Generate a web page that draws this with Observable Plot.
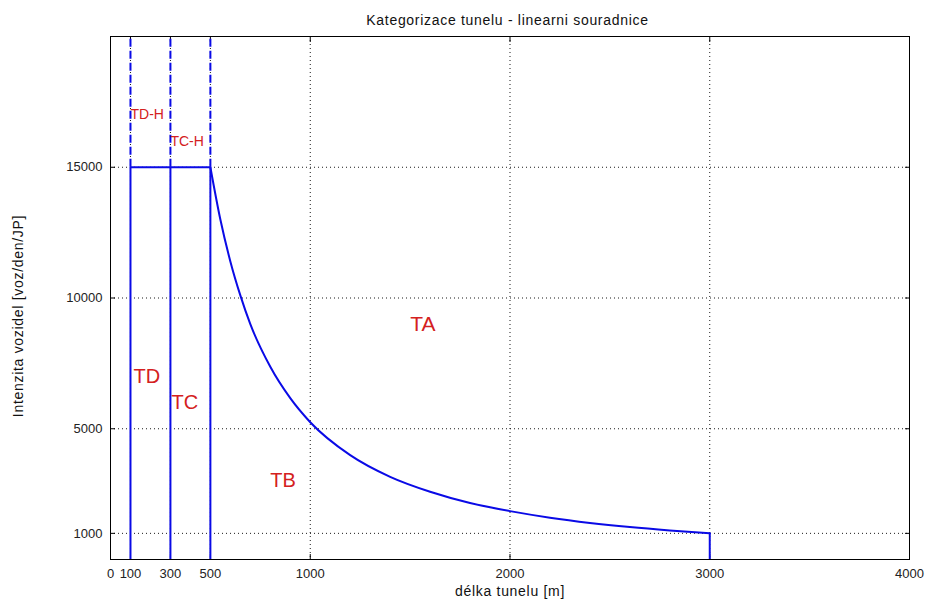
<!DOCTYPE html>
<html>
<head>
<meta charset="utf-8">
<script src="https://cdn.jsdelivr.net/npm/d3@7"></script>
<script src="https://cdn.jsdelivr.net/npm/@observablehq/plot@0.6"></script>
<style>
  html, body { margin: 0; padding: 0; background: #fff; }
  #title { width: 925px; height: 28px; font: 14px "Liberation Sans", Arial, sans-serif; color: #111; letter-spacing: 0.7px;
           box-sizing: border-box; padding-left: 106px; padding-right: 16px; text-align: center; line-height: 40px; overflow: visible; white-space: nowrap; }
  svg { display: block; }
</style>
</head>
<body>
<div id="title">Kategorizace tunelu - linearni souradnice</div>
<div id="chart"></div>
<script>
// Category boundaries (tunnel length, m)
const boundaryX = [100, 300, 500];
const boundaryTop = [15000];
const yMax = 20000;
const endX = [3000];
const endY = 1000;

// TA/TB boundary curve
const curveX = [500, 550, 600, 650, 700, 800, 900, 1000, 1200, 1400, 1600, 1800, 2000, 2200, 2400, 2600, 2800, 3000];
const curveY = [15000, 13000, 11400, 10100, 9000, 7370, 6170, 5250, 3990, 3160, 2590, 2160, 1850, 1600, 1400, 1240, 1110, 1000];

// Tick labels
const xTicks = [0, 100, 300, 500, 1000, 2000, 3000, 4000];
const yTicks = [1000, 5000, 10000, 15000];

// Region labels
const labelText = ["TD-H", "TC-H", "TD", "TC", "TB", "TA"];
const labelX    = [100, 300, 115, 305, 800, 1500];
const labelY    = [17000, 16000, 7000, 6000, 3000, 9000];
const labelSize = [14, 14, 20, 20, 20, 21];

const curve = curveX.map((x, i) => ({x, y: curveY[i]}));
const labels = labelText.map((t, i) => ({t, x: labelX[i], y: labelY[i], s: labelSize[i]}));

const blue = "#0a0ae6";
const red = "#d42020";
const font = '"Liberation Sans", Arial, sans-serif';
const fmt = d3.format("d");
const xTitle = "délka tunelu [m]";
const yTitle = "Intenzita vozidel [voz/den/JP]";

const chart = Plot.plot({
  width: 925,
  height: 571,
  marginLeft: 110,
  marginRight: 16,
  marginTop: 8,
  marginBottom: 40,
  style: {fontFamily: font, background: "#fff"},
  x: {domain: [0, 4000]},
  y: {domain: [0, yMax]},
  marks: [
    Plot.gridX(xTicks, {stroke: "#000", strokeOpacity: 0.9, strokeDasharray: "1,3"}),
    Plot.gridY(yTicks, {stroke: "#000", strokeOpacity: 0.9, strokeDasharray: "1,3"}),
    // labels
    Plot.axisX(xTicks, {tickSize: 0, tickPadding: 9, fontSize: 13, fill: "#222", label: null, tickFormat: fmt}),
    Plot.axisY(yTicks, {tickSize: 0, tickPadding: 8, fontSize: 13, fill: "#222", label: null, tickFormat: fmt}),
    // inward ticks
    Plot.axisX(xTicks, {anchor: "bottom", tickSize: 5, dy: -5, tickFormat: () => "", label: null}),
    Plot.axisX(xTicks, {anchor: "top", tickSize: 5, dy: 5, tickFormat: () => "", label: null}),
    Plot.axisY(yTicks, {anchor: "left", tickSize: 5, dx: 5, tickFormat: () => "", label: null}),
    Plot.axisY(yTicks, {anchor: "right", tickSize: 5, dx: -5, tickFormat: () => "", label: null}),
    Plot.frame({stroke: "#000", strokeWidth: 1}),
    // boundaries
    Plot.ruleX(boundaryX, {y1: 0, y2: boundaryTop[0], stroke: blue, strokeWidth: 2}),
    Plot.ruleX(boundaryX, {y1: boundaryTop[0], y2: yMax, stroke: blue, strokeWidth: 2, strokeDasharray: "8,4"}),
    Plot.ruleY(boundaryTop, {x1: boundaryX[0], x2: boundaryX[2], stroke: blue, strokeWidth: 2}),
    Plot.line(curve, {x: "x", y: "y", stroke: blue, strokeWidth: 2, curve: "monotone-x"}),
    Plot.ruleX(endX, {y1: 0, y2: endY, stroke: blue, strokeWidth: 2}),
    // region labels
    Plot.text(labels, {x: "x", y: "y", text: "t", fontSize: "s", fill: red, textAnchor: "start"}),
    // axis titles
    Plot.text([xTitle], {frameAnchor: "bottom", dy: 36, fontSize: 14, fill: "#111", textAnchor: "middle"}),
    Plot.text([yTitle], {frameAnchor: "left", dx: -92, dy: 18, rotate: -90, fontSize: 14, fill: "#111", textAnchor: "middle"})
  ]
});
d3.select(chart).selectAll("text").filter(function() {
  const t = this.textContent;
  return t === xTitle || t === yTitle;
}).style("letter-spacing", "0.7px");
document.getElementById("chart").appendChild(chart);
</script>
</body>
</html>
